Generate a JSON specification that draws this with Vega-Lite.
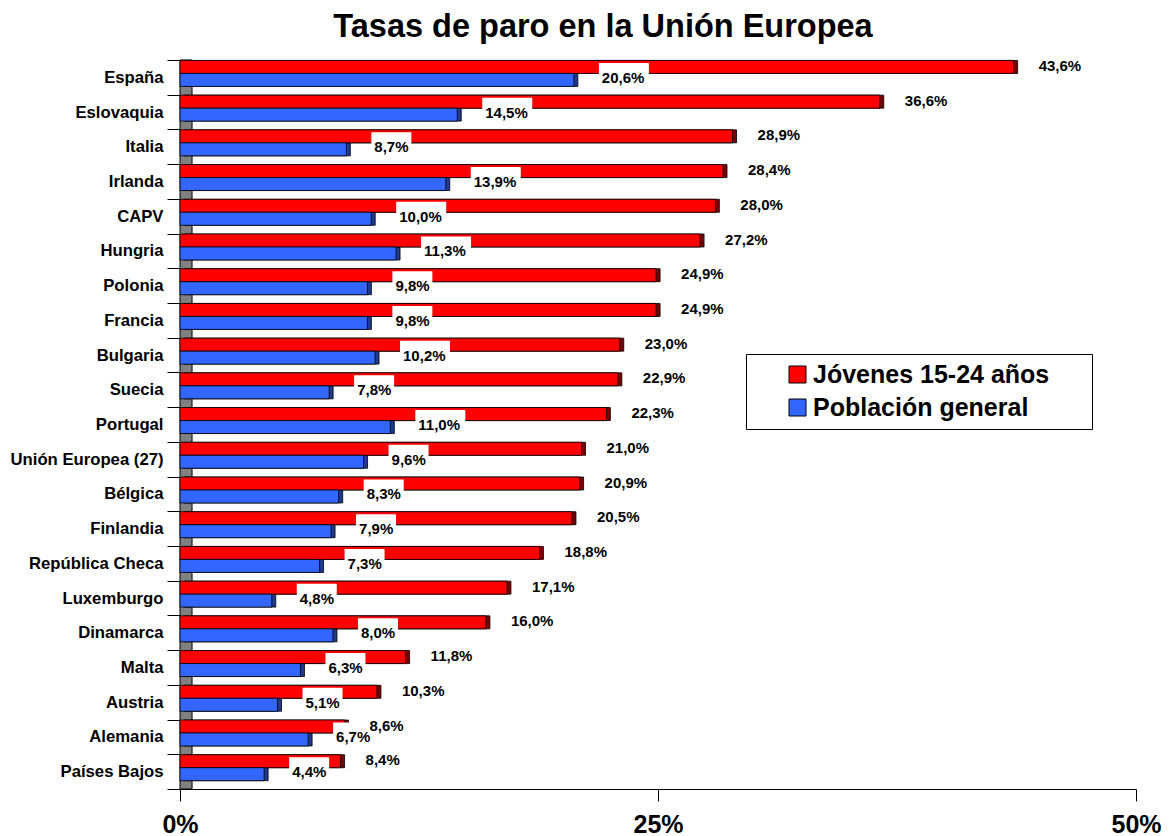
{
  "$schema": "https://vega.github.io/schema/vega-lite/v6.json",
  "autosize": "none",
  "width": 956,
  "height": 729,
  "padding": {"left": 180, "top": 60, "right": 40, "bottom": 47},
  "background": "white",
  "config": {
    "view": {"stroke": null},
    "font": "Liberation Sans",
    "locale": {"number": {"decimal": ",", "thousands": ".", "grouping": [3], "currency": ["", " €"]}}
  },
  "title": {
    "text": "Tasas de paro en la Unión Europea",
    "font": "Liberation Sans",
    "fontSize": 32.5,
    "fontWeight": "bold",
    "color": "black",
    "anchor": "middle",
    "dx": -55,
    "dy": 39,
    "baseline": "alphabetic",
    "offset": 22
  },
  "data": {
    "values": [
      {"pais": "España", "serie": "Jóvenes 15-24 años", "valor": 0.436},
      {"pais": "España", "serie": "Población general", "valor": 0.206},
      {"pais": "Eslovaquia", "serie": "Jóvenes 15-24 años", "valor": 0.366},
      {"pais": "Eslovaquia", "serie": "Población general", "valor": 0.145},
      {"pais": "Italia", "serie": "Jóvenes 15-24 años", "valor": 0.289},
      {"pais": "Italia", "serie": "Población general", "valor": 0.087},
      {"pais": "Irlanda", "serie": "Jóvenes 15-24 años", "valor": 0.284},
      {"pais": "Irlanda", "serie": "Población general", "valor": 0.139},
      {"pais": "CAPV", "serie": "Jóvenes 15-24 años", "valor": 0.280},
      {"pais": "CAPV", "serie": "Población general", "valor": 0.100},
      {"pais": "Hungria", "serie": "Jóvenes 15-24 años", "valor": 0.272},
      {"pais": "Hungria", "serie": "Población general", "valor": 0.113},
      {"pais": "Polonia", "serie": "Jóvenes 15-24 años", "valor": 0.249},
      {"pais": "Polonia", "serie": "Población general", "valor": 0.098},
      {"pais": "Francia", "serie": "Jóvenes 15-24 años", "valor": 0.249},
      {"pais": "Francia", "serie": "Población general", "valor": 0.098},
      {"pais": "Bulgaria", "serie": "Jóvenes 15-24 años", "valor": 0.230},
      {"pais": "Bulgaria", "serie": "Población general", "valor": 0.102},
      {"pais": "Suecia", "serie": "Jóvenes 15-24 años", "valor": 0.229},
      {"pais": "Suecia", "serie": "Población general", "valor": 0.078},
      {"pais": "Portugal", "serie": "Jóvenes 15-24 años", "valor": 0.223},
      {"pais": "Portugal", "serie": "Población general", "valor": 0.110},
      {"pais": "Unión Europea (27)", "serie": "Jóvenes 15-24 años", "valor": 0.210},
      {"pais": "Unión Europea (27)", "serie": "Población general", "valor": 0.096},
      {"pais": "Bélgica", "serie": "Jóvenes 15-24 años", "valor": 0.209},
      {"pais": "Bélgica", "serie": "Población general", "valor": 0.083},
      {"pais": "Finlandia", "serie": "Jóvenes 15-24 años", "valor": 0.205},
      {"pais": "Finlandia", "serie": "Población general", "valor": 0.079},
      {"pais": "República Checa", "serie": "Jóvenes 15-24 años", "valor": 0.188},
      {"pais": "República Checa", "serie": "Población general", "valor": 0.073},
      {"pais": "Luxemburgo", "serie": "Jóvenes 15-24 años", "valor": 0.171},
      {"pais": "Luxemburgo", "serie": "Población general", "valor": 0.048},
      {"pais": "Dinamarca", "serie": "Jóvenes 15-24 años", "valor": 0.160},
      {"pais": "Dinamarca", "serie": "Población general", "valor": 0.080},
      {"pais": "Malta", "serie": "Jóvenes 15-24 años", "valor": 0.118},
      {"pais": "Malta", "serie": "Población general", "valor": 0.063},
      {"pais": "Austria", "serie": "Jóvenes 15-24 años", "valor": 0.103},
      {"pais": "Austria", "serie": "Población general", "valor": 0.051},
      {"pais": "Alemania", "serie": "Jóvenes 15-24 años", "valor": 0.086},
      {"pais": "Alemania", "serie": "Población general", "valor": 0.067},
      {"pais": "Países Bajos", "serie": "Jóvenes 15-24 años", "valor": 0.084},
      {"pais": "Países Bajos", "serie": "Población general", "valor": 0.044}
    ]
  },
  "layer": [
    {
      "data": {"values": [{}]},
      "mark": {"type": "rect", "fill": "#808080", "stroke": "black", "strokeWidth": 1},
      "encoding": {
        "x": {"datum": 0, "type": "quantitative"},
        "x2": {"datum": 0.0063}
      }
    },
    {
      "mark": {"type": "bar", "xOffset": 4, "stroke": "black", "strokeWidth": 0.8},
      "encoding": {
        "y": {"field": "pais", "type": "nominal", "sort": null},
        "x": {"field": "valor", "type": "quantitative"},
        "yOffset": {"field": "serie", "type": "nominal"},
        "fill": {
          "condition": {"test": "datum.serie == 'Jóvenes 15-24 años'", "value": "#7A0000"},
          "value": "#1F3A8F"
        }
      }
    },
    {
      "mark": {"type": "bar", "stroke": "black", "strokeWidth": 0.8},
      "encoding": {
        "y": {
          "field": "pais",
          "type": "nominal",
          "sort": null,
          "scale": {"paddingInner": 0, "paddingOuter": 0},
          "axis": {
            "title": null,
            "labelFont": "Liberation Sans",
            "labelFontSize": 16.7,
            "labelFontWeight": "bold",
            "labelColor": "black",
            "labelLimit": 300,
            "labelPadding": 4,
            "tickSize": 13,
            "tickColor": "black",
            "tickBand": "extent",
            "domainColor": "black"
          }
        },
        "x": {
          "field": "valor",
          "type": "quantitative",
          "scale": {"domain": [0, 0.5], "nice": false},
          "axis": {
            "title": null,
            "values": [0, 0.25, 0.5],
            "format": ".0%",
            "grid": false,
            "labelFont": "Liberation Sans",
            "labelFontSize": 25,
            "labelFontWeight": "bold",
            "labelColor": "black",
            "labelFlush": false,
            "labelPadding": 11,
            "tickSize": 12,
            "tickColor": "black",
            "domainColor": "black"
          }
        },
        "yOffset": {
          "field": "serie",
          "type": "nominal",
          "scale": {"domain": ["Jóvenes 15-24 años", "Población general"], "paddingInner": 0, "paddingOuter": 0.337, "align": 0.05}
        },
        "color": {
          "field": "serie",
          "type": "nominal",
          "scale": {"domain": ["Jóvenes 15-24 años", "Población general"], "range": ["#FF0000", "#3366FF"]},
          "legend": {
            "title": "\u00a0",
            "titleOrient": "right",
            "titlePadding": 35,
            "titleFontSize": 25,
            "orient": "none",
            "legendX": 566,
            "legendY": 294,
            "symbolType": "square",
            "symbolSize": 289,
            "symbolStrokeColor": "black",
            "symbolStrokeWidth": 1,
            "symbolOffset": 31,
            "labelFont": "Liberation Sans",
            "labelFontSize": 25,
            "labelFontWeight": "bold",
            "labelColor": "black",
            "labelLimit": 500,
            "labelOffset": 3,
            "rowPadding": 7,
            "padding": 8,
            "strokeColor": "black",
            "fillColor": "white"
          }
        }
      }
    },
    {
      "transform": [{"filter": "datum.serie == 'Población general'"}],
      "mark": {"type": "point", "filled": true, "color": "white", "opacity": 1, "strokeWidth": 0, "xOffset": 25},
      "encoding": {
        "y": {"field": "pais", "type": "nominal", "sort": null},
        "x": {"field": "valor", "type": "quantitative"},
        "yOffset": {"field": "serie", "type": "nominal"},
        "shape": {
          "condition": {"test": "datum.valor >= 0.0995", "value": "M0,-0.68H2V0.52H0Z"},
          "value": "M0,-0.85H2V0.65H0Z"
        },
        "size": {
          "condition": {"test": "datum.valor >= 0.0995", "value": 2500},
          "value": 1600
        }
      }
    },
    {
      "transform": [{"filter": "datum.serie == 'Población general'"}],
      "mark": {"type": "text", "align": "left", "baseline": "middle", "dx": 28, "dy": -2, "font": "Liberation Sans", "fontSize": 15, "fontWeight": "bold", "color": "black"},
      "encoding": {
        "y": {"field": "pais", "type": "nominal", "sort": null},
        "x": {"field": "valor", "type": "quantitative"},
        "yOffset": {"field": "serie", "type": "nominal"},
        "text": {"field": "valor", "type": "quantitative", "format": ".1%"}
      }
    },
    {
      "transform": [{"filter": "datum.serie == 'Jóvenes 15-24 años'"}],
      "mark": {"type": "text", "align": "left", "baseline": "middle", "dx": 25, "dy": -1, "font": "Liberation Sans", "fontSize": 15, "fontWeight": "bold", "color": "black"},
      "encoding": {
        "y": {"field": "pais", "type": "nominal", "sort": null},
        "x": {"field": "valor", "type": "quantitative"},
        "yOffset": {"field": "serie", "type": "nominal"},
        "text": {"field": "valor", "type": "quantitative", "format": ".1%"}
      }
    }
  ]
}
